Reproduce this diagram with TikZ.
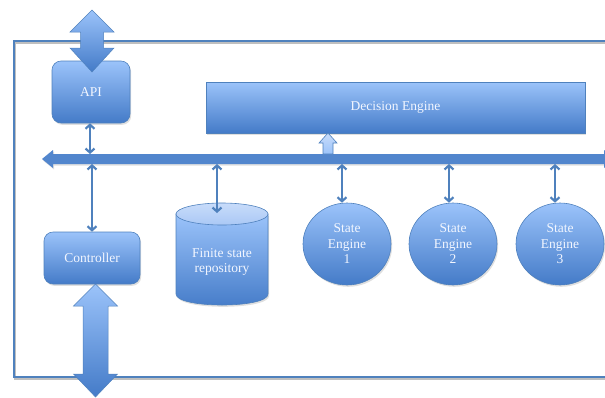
\documentclass[tikz,border=0pt]{standalone}
\usepackage{fontspec}
\setmainfont{Liberation Serif}
\usetikzlibrary{shapes.geometric,arrows.meta,shadows}
\definecolor{edge}{RGB}{79,129,189}
\definecolor{gtop}{RGB}{155,195,250}
\definecolor{gbot}{RGB}{68,123,200}
\definecolor{ltop}{RGB}{200,220,250}
\definecolor{lbot}{RGB}{170,200,245}
\definecolor{bus}{RGB}{82,134,205}
\definecolor{txtc}{RGB}{242,246,255}
\tikzset{
  shade box/.style={top color=gtop, bottom color=gbot, draw=edge, line width=0.6pt,
    drop shadow={opacity=0.25, shadow xshift=1.2pt, shadow yshift=-1.8pt}},
  lbl/.style={text=txtc, font=\fontsize{13.5}{15.5}\selectfont, align=center},
  link/.style={draw=edge, line width=2.2pt,
    {Straight Barb[length=4pt,width=9pt]}-{Straight Barb[length=4pt,width=9pt]}},
  bigarrow/.style={top color=gtop, bottom color=gbot, draw=edge, line width=0.5pt},
}
\begin{document}
\begin{tikzpicture}[x=1pt,y=-1pt]
\useasboundingbox (0,0) rectangle (605,397);
% frame (with a faint offset shadow line)
\draw[black!25, line width=2pt] (15,42.5) rectangle (641,378.5);
\draw[edge, line width=2pt] (14,41) rectangle (640,377);
% nodes
\node[shade box, rounded corners=9pt, minimum width=78, minimum height=62, lbl] (api) at (91,92) {API};
\node[shade box, rounded corners=9pt, minimum width=96, minimum height=52, lbl] (ctrl) at (92,258) {Controller};
\node[shade box, minimum width=379, minimum height=51, lbl] (de) at (395.5,107.5) {Decision Engine};
\node[shade box, ellipse, minimum width=88, minimum height=82, lbl] (se1) at (347,244) {State\\Engine\\1};
\node[shade box, ellipse, minimum width=88, minimum height=82, lbl] (se2) at (453,244) {State\\Engine\\2};
\node[shade box, ellipse, minimum width=88, minimum height=82, lbl] (se3) at (560,244) {State\\Engine\\3};
% cylinder
\path[top color=gtop, bottom color=gbot, draw=edge, line width=0.6pt,
  drop shadow={opacity=0.25, shadow xshift=1.2pt, shadow yshift=-1.8pt}]
  (176,214) -- (176,294) .. controls (176,308.67) and (268,308.67) .. (268,294) -- (268,214) -- cycle;
\path[top color=ltop, bottom color=lbot, draw=edge, line width=0.6pt] (222,214) ellipse [x radius=46, y radius=11];
\node[lbl] (fsr) at (222,262) {Finite state\\repository};
\coordinate (cyltop) at (217,213);
% bus
\path[fill=bus, drop shadow={opacity=0.25, shadow xshift=1pt, shadow yshift=-1.5pt}]
  (42,159) -- (53,150) -- (53,154) -- (604,154) -- (604,150) -- (615,159) -- (604,168) -- (604,164) -- (53,164) -- (53,168) -- cycle;
\coordinate (bapi) at (90,154);
\coordinate (bctrl) at (92,164);
\coordinate (bcyl) at (217,164);
\coordinate (b1) at (342,164);
\coordinate (b2) at (449,164);
\coordinate (b3) at (555,164);
% small up arrow into decision engine
\path[top color=ltop, bottom color=gtop, draw=edge, line width=0.6pt]
  (328,133) -- (337,143) -- (333,143) -- (333,154) -- (323,154) -- (323,143) -- (319,143) -- cycle;
% links
\draw[link] (api.south -| bapi) -- (bapi);
\draw[link] (bctrl) -- (bctrl |- ctrl.north);
\draw[link] (bcyl) -- (cyltop);
\draw[link] (b1) -- (b1 |- se1.north);
\draw[link] (b2) -- (b2 |- se2.north);
\draw[link] (b3) -- (b3 |- se3.north);
% big double arrows
\path[bigarrow] (92,10) -- (114,32) -- (103.5,32) -- (103.5,48) -- (114,48) -- (92,72)
  -- (70,48) -- (80.5,48) -- (80.5,32) -- (70,32) -- cycle;
\path[bigarrow] (95.5,284) -- (117.5,306) -- (108,306) -- (108,374) -- (117.5,374) -- (95.5,397)
  -- (73.5,374) -- (83,374) -- (83,306) -- (73.5,306) -- cycle;
\end{tikzpicture}
\end{document}
